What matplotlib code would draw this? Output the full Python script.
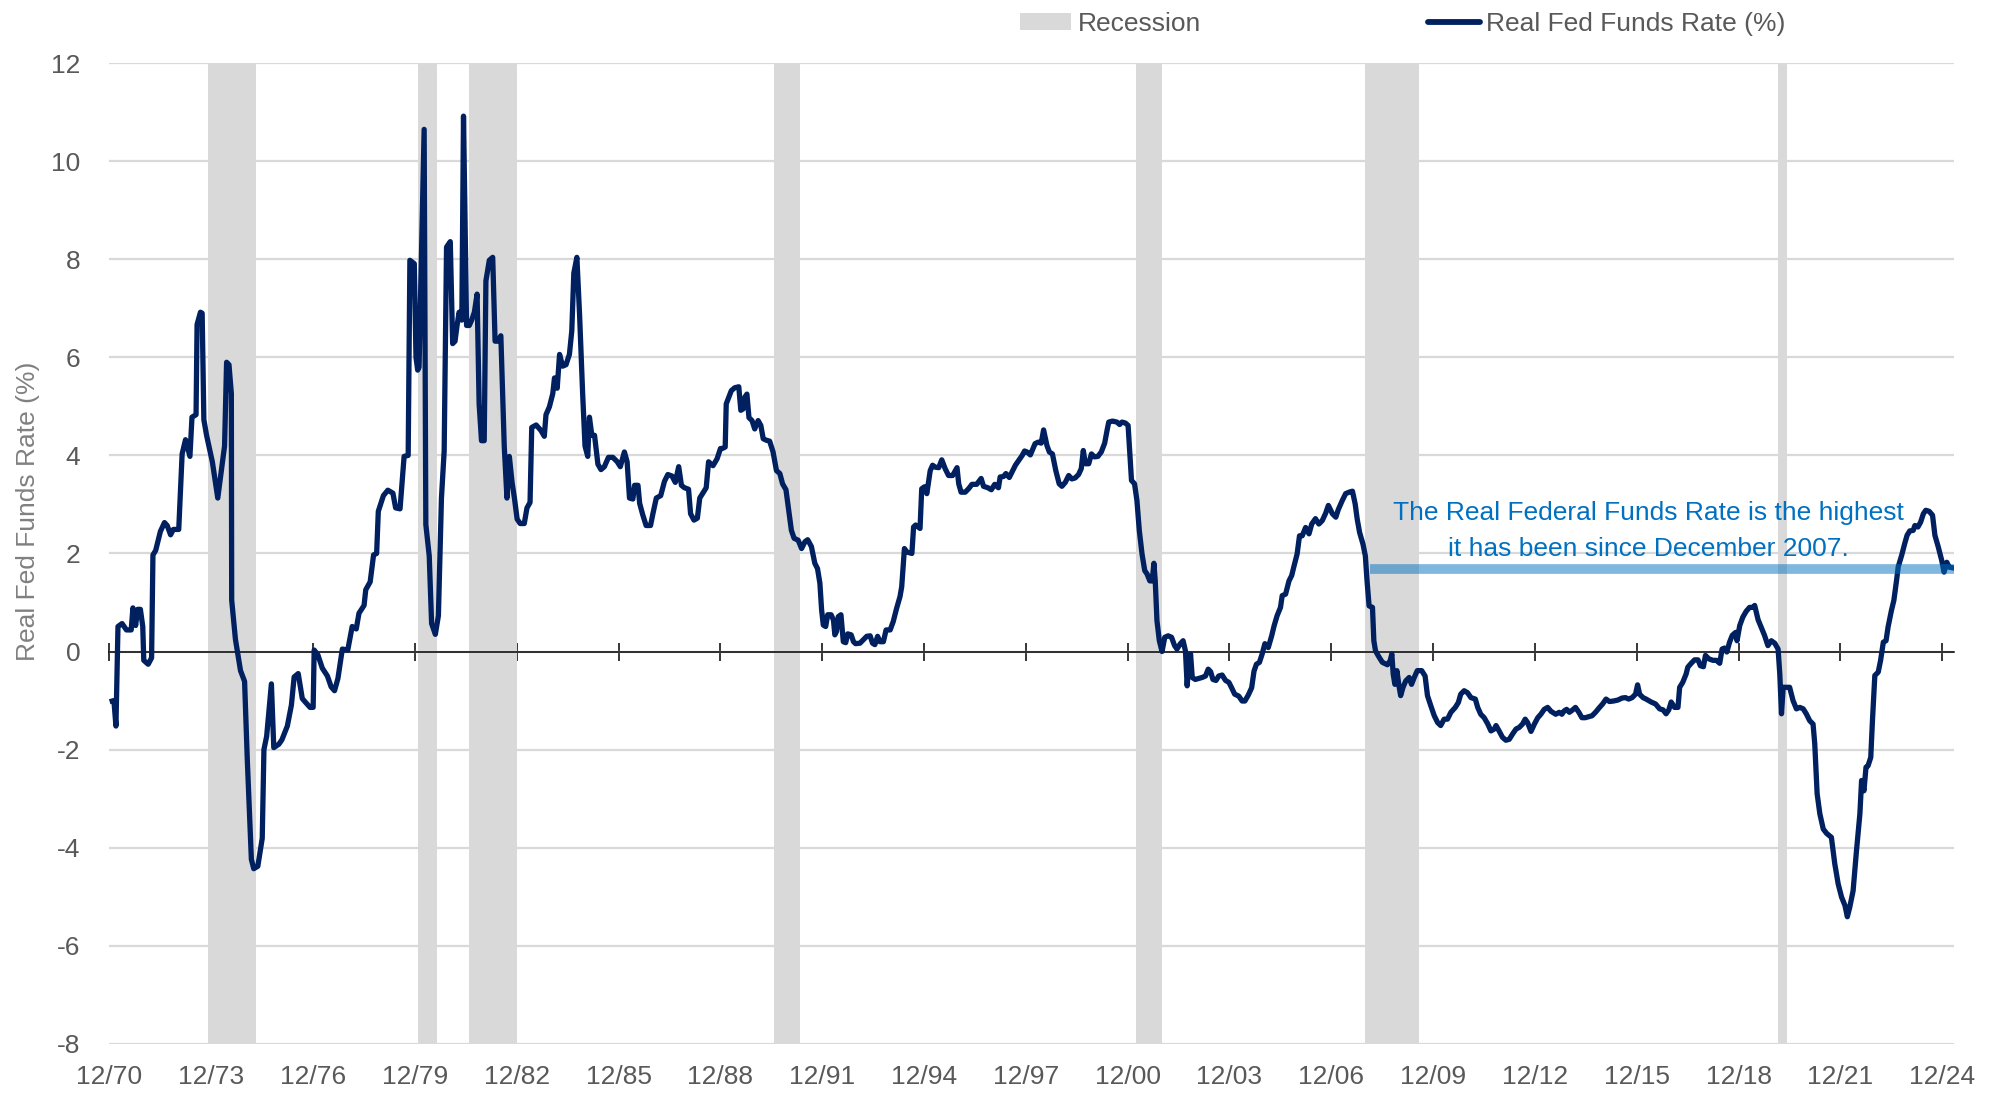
import numpy as np
import matplotlib
matplotlib.use('Agg')
import matplotlib.pyplot as plt
from matplotlib.patches import Patch
from matplotlib.lines import Line2D

plt.rcParams['font.family'] = ['Liberation Sans', 'DejaVu Sans']

# Real Fed Funds Rate (%) (decimal year, value)
years_70s = [1971.0, 1971.05, 1971.11, 1971.17, 1971.29, 1971.42, 1971.56, 1971.61, 1971.69, 1971.75,
             1971.83, 1971.9, 1971.93, 1972.06, 1972.16, 1972.2, 1972.28, 1972.42, 1972.54, 1972.62,
             1972.72, 1972.8, 1972.96, 1973.06, 1973.16, 1973.29, 1973.35, 1973.47, 1973.5, 1973.6,
             1973.65, 1973.7, 1973.78, 1973.95, 1974.11, 1974.31, 1974.37, 1974.44, 1974.51, 1974.52,
             1974.63, 1974.78, 1974.9, 1974.98, 1975.1, 1975.17, 1975.29, 1975.42, 1975.47, 1975.55,
             1975.69, 1975.76, 1975.91, 1976.0, 1976.16, 1976.28, 1976.36, 1976.48, 1976.6, 1976.7,
             1976.83, 1976.92, 1976.95, 1977.06, 1977.19, 1977.34, 1977.45, 1977.55, 1977.65, 1977.78,
             1977.94, 1978.07, 1978.19, 1978.27, 1978.42, 1978.47, 1978.6, 1978.7, 1978.79, 1978.84,
             1978.99, 1979.12, 1979.27, 1979.35, 1979.48, 1979.6, 1979.72, 1979.77, 1979.9, 1979.95,
             1980.0]
rate_70s = [-1.01, -1.0, -1.52, 0.51, 0.57, 0.44, 0.44, 0.89, 0.53, 0.86,
            0.86, 0.51, -0.18, -0.26, -0.13, 1.97, 2.06, 2.45, 2.63, 2.57,
            2.38, 2.49, 2.49, 4.03, 4.32, 3.98, 4.78, 4.83, 6.67, 6.92,
            6.9, 4.73, 4.41, 3.87, 3.13, 4.19, 5.9, 5.85, 5.26, 1.05,
            0.25, -0.39, -0.61, -2.21, -4.24, -4.43, -4.38, -3.81, -2.0, -1.73,
            -0.66, -1.96, -1.89, -1.80, -1.52, -1.09, -0.52, -0.45, -0.96, -1.04,
            -1.14, -1.14, 0.03, -0.07, -0.34, -0.50, -0.72, -0.80, -0.55, 0.05,
            0.03, 0.51, 0.46, 0.78, 0.94, 1.26, 1.42, 1.97, 2.0, 2.86,
            3.18, 3.29, 3.23, 2.93, 2.91, 3.98, 4.0, 7.98, 7.91, 6.0,
            5.74]

years_80s = [1980.04, 1980.19, 1980.24, 1980.34, 1980.41, 1980.52, 1980.61, 1980.7, 1980.78, 1980.85,
             1980.96, 1981.03, 1981.1, 1981.16, 1981.22, 1981.3, 1981.35, 1981.44, 1981.52, 1981.59,
             1981.67, 1981.75, 1981.81, 1981.88, 1981.96, 1982.01, 1982.11, 1982.21, 1982.28, 1982.36,
             1982.45, 1982.55, 1982.63, 1982.7, 1982.78, 1982.85, 1982.93, 1983.02, 1983.14, 1983.22,
             1983.31, 1983.36, 1983.49, 1983.63, 1983.73, 1983.78, 1983.88, 1983.98, 1984.03, 1984.11,
             1984.18, 1984.27, 1984.37, 1984.47, 1984.54, 1984.6, 1984.69, 1984.77, 1984.86, 1984.93,
             1985.01, 1985.06, 1985.13, 1985.21, 1985.31, 1985.4, 1985.5, 1985.62, 1985.75, 1985.88,
             1985.97, 1986.09, 1986.17, 1986.24, 1986.34, 1986.39, 1986.49, 1986.54, 1986.63, 1986.73,
             1986.86, 1986.93, 1987.03, 1987.16, 1987.27, 1987.37, 1987.49, 1987.59, 1987.69, 1987.77,
             1987.86, 1987.98, 1988.04, 1988.14, 1988.24, 1988.31, 1988.4, 1988.5, 1988.57, 1988.7,
             1988.82, 1988.92]
rate_80s = [5.80, 10.65, 2.59, 1.95, 0.57, 0.35, 0.73, 3.13, 4.09, 8.25,
            8.36, 6.28, 6.33, 6.65, 6.92, 6.76, 10.92, 6.65, 6.65, 6.76,
            6.92, 7.29, 5.05, 4.30, 4.30, 7.56, 7.98, 8.04, 6.33, 6.33,
            6.44, 4.19, 3.13, 3.98, 3.45, 3.13, 2.70, 2.61, 2.61, 2.93,
            3.04, 4.57, 4.62, 4.51, 4.39, 4.83, 4.99, 5.26, 5.58, 5.37,
            6.06, 5.82, 5.85, 6.06, 6.54, 7.72, 8.04, 6.86, 5.26, 4.19,
            3.98, 4.78, 4.41, 4.41, 3.82, 3.71, 3.77, 3.96, 3.96, 3.87,
            3.77, 4.07, 3.87, 3.13, 3.11, 3.39, 3.39, 3.02, 2.79, 2.57,
            2.57, 2.81, 3.13, 3.18, 3.47, 3.61, 3.58, 3.45, 3.77, 3.39,
            3.34, 3.31, 2.81, 2.68, 2.72, 3.13, 3.23, 3.34, 3.87, 3.79,
            3.93, 4.14]

years_90s = [1988.97, 1989.06, 1989.09, 1989.24, 1989.34, 1989.46, 1989.52, 1989.59, 1989.64, 1989.7,
             1989.76, 1989.85, 1989.93, 1990.03, 1990.11, 1990.18, 1990.27, 1990.37, 1990.47, 1990.57,
             1990.67, 1990.75, 1990.85, 1990.93, 1991.01, 1991.09, 1991.21, 1991.31, 1991.41, 1991.49,
             1991.6, 1991.7, 1991.78, 1991.85, 1991.9, 1991.95, 1992.02, 1992.08, 1992.18, 1992.25,
             1992.29, 1992.34, 1992.39, 1992.47, 1992.54, 1992.61, 1992.67, 1992.77, 1992.84, 1992.9,
             1993.03, 1993.13, 1993.23, 1993.33, 1993.4, 1993.47, 1993.55, 1993.62, 1993.72, 1993.8,
             1993.92, 1994.01, 1994.11, 1994.21, 1994.26, 1994.34, 1994.41, 1994.56, 1994.61, 1994.67,
             1994.8, 1994.85, 1994.93, 1995.0, 1995.1, 1995.17, 1995.25, 1995.35, 1995.44, 1995.54,
             1995.64, 1995.76, 1995.89, 1995.94, 1996.01, 1996.13, 1996.23, 1996.33, 1996.47, 1996.6,
             1996.67, 1996.8, 1996.9, 1997.0, 1997.11, 1997.16, 1997.26, 1997.33, 1997.43, 1997.53,
             1997.61, 1997.71, 1997.81, 1997.88]
rate_90s = [4.14, 4.17, 5.05, 5.32, 5.38, 5.40, 4.92, 4.95, 5.19, 5.25,
            4.77, 4.71, 4.54, 4.71, 4.61, 4.34, 4.31, 4.29, 4.07, 3.69,
            3.63, 3.42, 3.30, 2.88, 2.47, 2.31, 2.27, 2.10, 2.24, 2.28,
            2.14, 1.80, 1.69, 1.39, 0.85, 0.54, 0.51, 0.75, 0.75, 0.64,
            0.34, 0.41, 0.71, 0.75, 0.20, 0.18, 0.36, 0.34, 0.20, 0.16,
            0.17, 0.24, 0.31, 0.32, 0.17, 0.14, 0.31, 0.20, 0.20, 0.44,
            0.44, 0.61, 0.88, 1.12, 1.32, 2.10, 2.03, 2.00, 2.54, 2.58,
            2.51, 3.32, 3.36, 3.22, 3.69, 3.80, 3.76, 3.75, 3.91, 3.73,
            3.59, 3.59, 3.75, 3.42, 3.25, 3.25, 3.32, 3.41, 3.41, 3.53,
            3.37, 3.34, 3.30, 3.41, 3.34, 3.56, 3.57, 3.63, 3.55, 3.69,
            3.80, 3.90, 4.00, 4.09]

years_00s = [1997.95, 1998.05, 1998.19, 1998.28, 1998.37, 1998.44, 1998.54, 1998.61, 1998.7, 1998.8,
             1998.9, 1998.98, 1999.08, 1999.18, 1999.27, 1999.37, 1999.47, 1999.55, 1999.61, 1999.67,
             1999.77, 1999.85, 1999.94, 2000.04, 2000.14, 2000.24, 2000.31, 2000.36, 2000.47, 2000.6,
             2000.68, 2000.75, 2000.85, 2000.93, 2000.97, 2001.03, 2001.12, 2001.19, 2001.26, 2001.34,
             2001.42, 2001.49, 2001.57, 2001.64, 2001.69, 2001.73, 2001.78, 2001.85, 2001.93, 2002.01,
             2002.11, 2002.21, 2002.3, 2002.37, 2002.47, 2002.55, 2002.62, 2002.67, 2002.72, 2002.77,
             2002.82, 2002.91, 2003.01, 2003.11, 2003.21, 2003.29, 2003.36, 2003.43, 2003.52, 2003.6,
             2003.7, 2003.8, 2003.9, 2003.98, 2004.07, 2004.19, 2004.29, 2004.37, 2004.47, 2004.57,
             2004.64, 2004.71, 2004.8, 2004.88, 2004.96, 2005.06, 2005.16, 2005.23, 2005.32, 2005.42,
             2005.47, 2005.57, 2005.67, 2005.75, 2005.81, 2005.91, 2005.98, 2006.06, 2006.16, 2006.26,
             2006.34, 2006.45, 2006.55, 2006.65, 2006.75, 2006.83, 2006.95, 2007.05, 2007.12, 2007.24,
             2007.34, 2007.44, 2007.54, 2007.62, 2007.68, 2007.75]
rate_00s = [4.07, 4.01, 4.24, 4.27, 4.25, 4.52, 4.20, 4.07, 4.03, 3.69,
            3.42, 3.37, 3.45, 3.59, 3.52, 3.54, 3.61, 3.73, 4.10, 3.83,
            3.83, 4.03, 3.97, 3.98, 4.07, 4.25, 4.51, 4.68, 4.70, 4.68,
            4.63, 4.68, 4.66, 4.61, 4.17, 3.49, 3.42, 3.08, 2.47, 1.99,
            1.65, 1.58, 1.44, 1.44, 1.80, 1.44, 0.63, 0.22, 0.00, 0.29,
            0.32, 0.29, 0.12, 0.05, 0.16, 0.22, 0.01, -0.70, -0.22, -0.05,
            -0.53, -0.57, -0.55, -0.53, -0.50, -0.36, -0.41, -0.57, -0.59, -0.50,
            -0.48, -0.59, -0.63, -0.74, -0.87, -0.91, -1.01, -1.01, -0.89, -0.74,
            -0.40, -0.26, -0.22, -0.05, 0.16, 0.08, 0.32, 0.52, 0.73, 0.90,
            1.14, 1.17, 1.44, 1.55, 1.72, 1.99, 2.36, 2.36, 2.53, 2.40,
            2.60, 2.71, 2.60, 2.67, 2.82, 2.98, 2.81, 2.74, 2.89, 3.08,
            3.22, 3.25, 3.27, 3.01, 2.70, 2.43]

years_10s = [2007.85, 2007.92, 2007.97, 2008.03, 2008.13, 2008.17, 2008.22, 2008.32, 2008.42, 2008.57,
             2008.65, 2008.7, 2008.74, 2008.79, 2008.85, 2008.91, 2008.96, 2009.03, 2009.11, 2009.21,
             2009.28, 2009.36, 2009.45, 2009.58, 2009.68, 2009.75, 2009.85, 2009.95, 2010.05, 2010.14,
             2010.24, 2010.34, 2010.44, 2010.57, 2010.66, 2010.73, 2010.83, 2010.93, 2011.03, 2011.16,
             2011.23, 2011.32, 2011.42, 2011.52, 2011.62, 2011.72, 2011.77, 2011.86, 2011.96, 2012.06,
             2012.16, 2012.26, 2012.36, 2012.45, 2012.55, 2012.63, 2012.7, 2012.8, 2012.9, 2013.0,
             2013.09, 2013.19, 2013.29, 2013.39, 2013.53, 2013.63, 2013.71, 2013.78, 2013.85, 2013.93,
             2014.01, 2014.11, 2014.21, 2014.3, 2014.4, 2014.5, 2014.6, 2014.7, 2014.82, 2014.91,
             2015.01, 2015.11, 2015.23, 2015.36, 2015.48, 2015.58, 2015.68, 2015.78, 2015.88, 2015.94,
             2016.0]
rate_10s = [2.19, 1.95, 1.44, 0.93, 0.90, 0.22, 0.01, -0.11, -0.22, -0.27,
            -0.19, -0.05, -0.46, -0.67, -0.39, -0.70, -0.90, -0.73, -0.60, -0.53,
            -0.67, -0.53, -0.39, -0.39, -0.50, -0.90, -1.11, -1.31, -1.45, -1.51,
            -1.38, -1.38, -1.24, -1.14, -1.04, -0.87, -0.80, -0.84, -0.94, -0.97,
            -1.14, -1.28, -1.35, -1.47, -1.62, -1.58, -1.51, -1.62, -1.75, -1.81,
            -1.79, -1.68, -1.58, -1.55, -1.48, -1.38, -1.45, -1.63, -1.48, -1.35,
            -1.28, -1.18, -1.14, -1.22, -1.28, -1.24, -1.28, -1.21, -1.18, -1.24,
            -1.20, -1.14, -1.24, -1.35, -1.35, -1.33, -1.31, -1.24, -1.14, -1.07,
            -0.97, -1.02, -1.01, -0.99, -0.95, -0.94, -0.97, -0.94, -0.87, -0.68,
            -0.87]

years_20s = [2016.1, 2016.19, 2016.34, 2016.47, 2016.59, 2016.69, 2016.78, 2016.86, 2016.93, 2017.03,
             2017.13, 2017.18, 2017.27, 2017.37, 2017.42, 2017.52, 2017.62, 2017.72, 2017.79, 2017.88,
             2017.94, 2018.04, 2018.16, 2018.26, 2018.36, 2018.43, 2018.5, 2018.57, 2018.65, 2018.73,
             2018.83, 2018.87, 2018.95, 2019.04, 2019.14, 2019.24, 2019.34, 2019.39, 2019.49, 2019.58,
             2019.68, 2019.78, 2019.88, 2019.98, 2020.08, 2020.13, 2020.18, 2020.23, 2020.32, 2020.42,
             2020.52, 2020.62, 2020.72, 2020.82, 2020.91, 2021.01, 2021.11, 2021.16, 2021.23, 2021.31,
             2021.41, 2021.51, 2021.65, 2021.75, 2021.85, 2021.95, 2022.05, 2022.12, 2022.19, 2022.29,
             2022.39, 2022.49, 2022.54, 2022.61, 2022.67, 2022.73, 2022.81, 2022.86, 2022.93, 2023.03,
             2023.1, 2023.18, 2023.26, 2023.32, 2023.42, 2023.49, 2023.57, 2023.62, 2023.72, 2023.81,
             2023.88, 2023.96, 2024.06, 2024.11, 2024.2, 2024.28, 2024.36, 2024.43, 2024.53, 2024.63,
             2024.7, 2024.8, 2024.9, 2024.97, 2025.05, 2025.12, 2025.2]
rate_20s = [-0.94, -0.97, -1.03, -1.07, -1.17, -1.19, -1.27, -1.19, -1.03, -1.14,
            -1.14, -0.73, -0.63, -0.46, -0.32, -0.24, -0.17, -0.17, -0.29, -0.31,
            -0.08, -0.15, -0.18, -0.18, -0.24, 0.05, 0.07, -0.01, 0.19, 0.33,
            0.39, 0.22, 0.53, 0.70, 0.82, 0.90, 0.90, 0.94, 0.65, 0.50,
            0.33, 0.12, 0.22, 0.17, 0.05, -0.46, -1.27, -0.73, -0.73, -0.73,
            -1.00, -1.17, -1.14, -1.17, -1.27, -1.41, -1.48, -1.88, -2.90, -3.31,
            -3.62, -3.71, -3.79, -4.33, -4.74, -5.01, -5.18, -5.41, -5.22, -4.88,
            -4.06, -3.31, -2.63, -2.84, -2.36, -2.33, -2.16, -1.41, -0.49, -0.42,
            -0.18, 0.19, 0.22, 0.50, 0.84, 1.04, 1.45, 1.73, 1.96, 2.20,
            2.37, 2.46, 2.47, 2.57, 2.54, 2.64, 2.81, 2.88, 2.86, 2.78,
            2.37, 2.13, 1.86, 1.62, 1.82, 1.72, 1.71]

# NBER recessions (start month, end month)
recessions = [('1973-11', '1975-03'), ('1980-01', '1980-07'), ('1981-07', '1982-11'),
              ('1990-07', '1991-03'), ('2001-03', '2001-11'), ('2007-12', '2009-06'),
              ('2020-02', '2020-04')]

tick_years = list(range(1970, 2025, 3))   # December of each year
tick_labels = ['12/%02d' % (y % 100) for y in tick_years]

current_level = 1.69        # highlighted level since Dec 2007
highlight_start = 2008.05
note = 'The Real Federal Funds Rate is the highest\nit has been since December 2007.'

NAVY = '#002060'
GRAY = '#D9D9D9'
TXT = '#595959'
FS = 19

years = np.array(years_70s + years_80s + years_90s + years_00s + years_10s + years_20s)
rate = np.array(rate_70s + rate_80s + rate_90s + rate_00s + rate_10s + rate_20s)


def ym(s, end=False):
    y, m = s.split('-')
    return int(y) + (int(m) - 1 + (1 if end else 0)) / 12


fig = plt.figure(figsize=(19.96, 10.99), dpi=100)
ax = fig.add_axes([0.0548, 0.0503, 0.9242, 0.8922])

x_left = 1970 + 11 / 12
x_right = 2025.265
ax.set_xlim(x_left, x_right)
ax.set_ylim(-8, 12)

for s, e in recessions:
    ax.axvspan(ym(s), ym(e, end=True), color=GRAY, lw=0, zorder=1)

ax.plot(years, rate, color=NAVY, lw=3.8, zorder=3, solid_joinstyle='round')

ax.hlines(current_level, highlight_start, x_right, color='#0070C0', alpha=0.5, lw=7, zorder=4)

ax.text(2016.25, 2.46, note, ha='center', va='center', color='#0070C0', fontsize=FS,
        linespacing=1.65, zorder=5)

# y axis
ax.set_yticks(np.arange(-8, 13, 2))
ax.set_yticklabels([str(v) for v in range(-8, 13, 2)])
ax.tick_params(axis='y', length=0, pad=21, labelsize=FS, labelcolor=TXT)
ax.yaxis.grid(True, color=GRAY, lw=1.6)
ax.set_axisbelow(True)
for sp in ['left', 'right', 'top']:
    ax.spines[sp].set_visible(False)

# zero line with ticks
tick_pos = [y + 11 / 12 for y in tick_years]
ax.spines['bottom'].set_position(('data', 0))
ax.spines['bottom'].set_color('black')
ax.spines['bottom'].set_linewidth(1.1)
ax.spines['bottom'].set_zorder(2.5)
ax.set_xticks(tick_pos)
ax.tick_params(axis='x', direction='inout', length=13, width=1.1, labelbottom=False)

sec = ax.secondary_xaxis(0.0)
sec.set_xticks(tick_pos)
sec.set_xticklabels(tick_labels)
sec.tick_params(length=0, pad=15, labelsize=FS, labelcolor=TXT)
sec.spines['bottom'].set_visible(False)

fig.text(28 / 1996, 1 - 511 / 1099, 'Real Fed Funds Rate (%)', rotation=90,
         ha='center', va='center', fontsize=FS, color='#808080')

handles = [Patch(facecolor=GRAY, edgecolor='none'),
           Line2D([], [], color=NAVY, lw=4.2, solid_capstyle='round')]
fig.legend(handles, ['Recession', 'Real Fed Funds Rate (%)'], loc='center left',
           bbox_to_anchor=(1020 / 1996, 1 - 24 / 1099), ncol=2, frameon=False,
           fontsize=FS, handlelength=1.95, handleheight=0.6, handletextpad=0.25,
           columnspacing=8.6, borderpad=0, borderaxespad=0, labelcolor=TXT)

fig.savefig('out.png', dpi=100)
